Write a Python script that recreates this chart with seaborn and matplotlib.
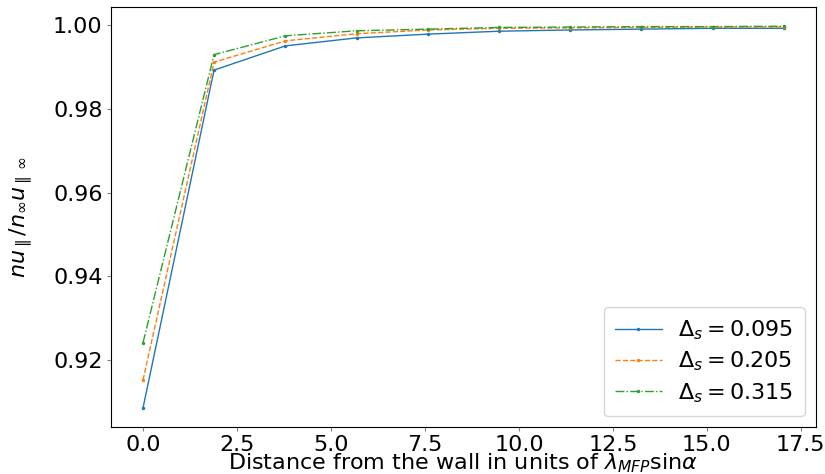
import matplotlib
matplotlib.use("Agg")
import matplotlib.pyplot as plt
import seaborn as sns
import pandas as pd

# distance from the wall (units of lambda_MFP sin(alpha))
distance = [0.0, 1.89, 3.79, 5.68, 7.58, 9.47, 11.37, 13.26, 15.16, 17.05]

# normalised parallel flux n u_par / (n_inf u_par_inf)
flux_095 = [0.9085, 0.9893, 0.9951, 0.9970, 0.9979, 0.9986, 0.9989, 0.9991, 0.9993, 0.9993]
flux_205 = [0.9152, 0.9912, 0.9963, 0.9980, 0.9989, 0.9993, 0.9994, 0.9995, 0.9996, 0.9996]
flux_315 = [0.9241, 0.9930, 0.9975, 0.9987, 0.9991, 0.9995, 0.9996, 0.9997, 0.9997, 0.9998]

labels = [r"$\Delta_s = 0.095$", r"$\Delta_s = 0.205$", r"$\Delta_s = 0.315$"]
series = [flux_095, flux_205, flux_315]
colors = ["#1f77b4", "#ff7f0e", "#2ca02c"]
styles = ["-", "--", "-."]

fig = plt.figure(figsize=(8.25, 4.74), dpi=100)
ax = fig.add_axes([0.1345, 0.099, 0.8545, 0.886])

for vals, lab, col, ls in zip(series, labels, colors, styles):
    df = pd.DataFrame({"x": distance, "y": vals})
    sns.lineplot(data=df, x="x", y="y", ax=ax, color=col, linestyle=ls,
                 linewidth=1.0, marker="o", markersize=2.5, markeredgewidth=0,
                 label=lab)

ax.set_xlabel(r"Distance from the wall in units of $\lambda_{MFP}\mathrm{sin}\alpha$",
              fontsize=16, labelpad=-3)
ax.set_ylabel(r"$nu_\parallel/n_\infty u_{\parallel\,\infty}$", fontsize=16, labelpad=13)
ax.tick_params(axis="both", labelsize=16, length=3, color="gray", pad=3)
ax.set_xticks([0, 2.5, 5, 7.5, 10, 12.5, 15, 17.5])
ax.set_yticks([0.92, 0.94, 0.96, 0.98, 1.00])
ax.legend(loc="lower right", fontsize=16, labelspacing=0.35, handletextpad=0.75,
          handlelength=2.1, borderpad=0.5)

fig.savefig("out.png", dpi=100)
